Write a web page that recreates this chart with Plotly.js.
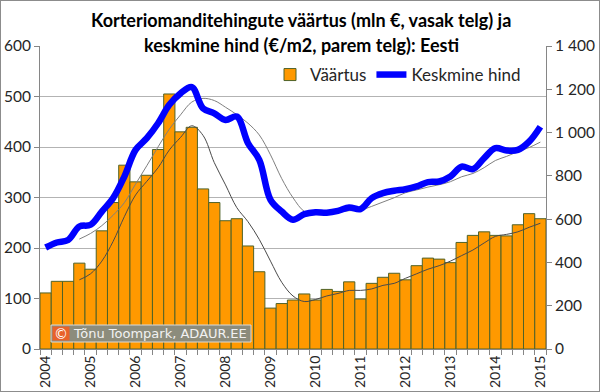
<!DOCTYPE html>
<html>
<head>
<meta charset="utf-8">
<script src="https://cdn.plot.ly/plotly-3.0.1.min.js"></script>
<style>
html,body{margin:0;padding:0;background:#fff;}
#wrap{position:relative;width:600px;height:392px;}
#chart{width:600px;height:392px;}
#frame{position:absolute;left:0;top:0;width:600px;height:392px;box-sizing:border-box;border:1px solid #8c8c8c;pointer-events:none;}
</style>
</head>
<body>
<div id="wrap"><div id="chart"></div><div id="frame"></div></div>
<script>
const quarters = [
"2004 Q1","2004 Q2","2004 Q3","2004 Q4","2005 Q1","2005 Q2","2005 Q3","2005 Q4",
"2006 Q1","2006 Q2","2006 Q3","2006 Q4","2007 Q1","2007 Q2","2007 Q3","2007 Q4",
"2008 Q1","2008 Q2","2008 Q3","2008 Q4","2009 Q1","2009 Q2","2009 Q3","2009 Q4",
"2010 Q1","2010 Q2","2010 Q3","2010 Q4","2011 Q1","2011 Q2","2011 Q3","2011 Q4",
"2012 Q1","2012 Q2","2012 Q3","2012 Q4","2013 Q1","2013 Q2","2013 Q3","2013 Q4",
"2014 Q1","2014 Q2","2014 Q3","2014 Q4","2015 Q1"];
const yearTickCats = ["2004 Q1","2005 Q1","2006 Q1","2007 Q1","2008 Q1","2009 Q1","2010 Q1","2011 Q1","2012 Q1","2013 Q1","2014 Q1","2015 Q1"];
const yearLabels = ["2004","2005","2006","2007","2008","2009","2010","2011","2012","2013","2014","2015"];

// Väärtus (mln €), left axis
const vaartus = [111,134,134,170,158,234,290,364,331,344,395,505,430,439,317,290,254,258,204,153,81,90,97,109,97,118,114,133,99,130,142,150,137,165,180,178,171,211,225,232,225,224,246,268,258];
// 4-quarter trend of Väärtus (thin dark line)
const vaartusTrend = [null,null,null,137,149,174,213,262,305,332,359,394,419,442,423,369,325,280,252,217,174,132,105,94,98,105,110,116,116,119,126,130,140,149,158,165,174,185,196,210,223,227,232,241,249];
// Keskmine hind (€/m2), right axis
const hind = [469,492,504,566,574,635,697,797,920,974,1043,1128,1181,1210,1112,1089,1058,1074,951,874,689,635,597,623,632,630,638,654,646,697,720,731,738,751,771,774,797,843,831,882,928,917,920,958,1027];
// 4-quarter trend of Keskmine hind (thin grey line)
const hindTrend = [null,null,null,508,534,570,618,676,762,847,934,1016,1082,1141,1158,1148,1117,1083,1043,989,897,787,699,636,622,621,631,639,642,659,679,699,722,735,748,759,773,796,811,838,871,890,912,931,956];

const titleLine1 = 'Korteriomanditehingute väärtus (mln €, vasak telg) ja';
const titleLine2 = 'keskmine hind (€/m2, parem telg): Eesti';
const credit = 'Tõnu Toompark, ADAUR.EE';

const font = "Lato, 'Open Sans', sans-serif";

const traces = [
  {type:'bar', x:quarters, y:vaartus, name:'Väärtus',
   marker:{color:'#FF9900', line:{color:'#4F6228', width:1}}, hoverinfo:'x+y'},
  {type:'scatter', mode:'lines', x:quarters, y:vaartusTrend, showlegend:false,
   line:{color:'#4a4a4a', width:1, shape:'spline'}, hoverinfo:'skip'},
  {type:'scatter', mode:'lines', x:quarters, y:hindTrend, yaxis:'y2', showlegend:false,
   line:{color:'#7f7f7f', width:1, shape:'spline'}, hoverinfo:'skip'},
  {type:'scatter', mode:'lines', x:quarters, y:hind, yaxis:'y2', name:'Keskmine hind',
   line:{color:'#0000FF', width:6.5, shape:'spline'}},
  {type:'scatter', mode:'lines', x:quarters, y:vaartus, xaxis:'x2', showlegend:false,
   opacity:0, hoverinfo:'skip', line:{width:0}}
];

const px = v => (v-40)/506;
const py = v => (349-v)/303;

const layout = {
  width:600, height:392,
  margin:{l:40, r:54, t:46, b:43},
  paper_bgcolor:'#fff', plot_bgcolor:'#fff',
  font:{family:font, size:14, color:'#262626'},
  separators:', ',
  bargap:0,
  showlegend:true,
  legend:{orientation:'h', x:px(270), y:py(75), xanchor:'left', yanchor:'middle',
          font:{family:font, size:17, color:'#262626'}, bgcolor:'rgba(0,0,0,0)',
          itemwidth:30, traceorder:'normal'},
  xaxis:{type:'category', range:[-0.5,44.5], tickmode:'array', tickvals:yearTickCats, ticktext:yearLabels,
         tickangle:-90, ticks:'', showgrid:false, showline:true, linecolor:'#868686', linewidth:1,
         tickfont:{family:font, size:14, color:'#262626'}, fixedrange:true},
  xaxis2:{type:'category', overlaying:'x', range:[-0.5,44.5], tickson:'boundaries', tickmode:'linear', dtick:1,
          ticks:'outside', ticklen:5, tickcolor:'#868686', showticklabels:false, showgrid:false, showline:false,
          side:'bottom', anchor:'y'},
  yaxis:{range:[0,600], dtick:100, showgrid:true, gridcolor:'#b3b3b3', gridwidth:1,
         showline:true, linecolor:'#868686', ticks:'outside', ticklen:5, tickcolor:'#868686',
         zeroline:false, tickfont:{family:font, size:15.5, color:'#262626'}},
  yaxis2:{range:[0,1400], dtick:200, overlaying:'y', side:'right', showgrid:false,
          showline:true, linecolor:'#868686', ticks:'outside', ticklen:5, tickcolor:'#868686',
          zeroline:false, separatethousands:true, tickfont:{family:font, size:15.5, color:'#262626'}},
  shapes:[
    {type:'rect', xref:'paper', yref:'paper', x0:px(80), x1:px(521), y0:py(58), y1:py(6),
     fillcolor:'#fff', line:{width:0}, layer:'above'},
    {type:'rect', xref:'paper', yref:'paper', x0:px(51), x1:px(251), y0:py(342), y1:py(325),
     fillcolor:'#8C8C7C', line:{color:'#d9d9d9', width:1}, layer:'above'},
    {type:'rect', xref:'paper', yref:'paper', x0:px(52.5), x1:px(69.5), y0:py(340.5), y1:py(326.5),
     fillcolor:'#E8622A', line:{width:0}, layer:'above'}
  ],
  annotations:[
    {xref:'paper', yref:'paper', x:px(301), y:py(19.5), xanchor:'center', yanchor:'middle', showarrow:false,
     text:'<b>'+titleLine1+'</b>', font:{family:font, size:18, color:'#000'}},
    {xref:'paper', yref:'paper', x:px(301), y:py(44.5), xanchor:'center', yanchor:'middle', showarrow:false,
     text:'<b>'+titleLine2+'</b>', font:{family:font, size:18, color:'#000'}},
    {xref:'paper', yref:'paper', x:px(61), y:py(333.5), xanchor:'center', yanchor:'middle', showarrow:false,
     text:'©', font:{family:"'DejaVu Sans', sans-serif", size:14, color:'#fff'}},
    {xref:'paper', yref:'paper', x:px(160), y:py(333.5), xanchor:'center', yanchor:'middle', showarrow:false,
     text:credit, font:{family:"'DejaVu Sans', sans-serif", size:13, color:'#f2f2f2'}}
  ]
};

Plotly.newPlot('chart', traces, layout, {displayModeBar:false, staticPlot:true});
</script>
</body>
</html>
